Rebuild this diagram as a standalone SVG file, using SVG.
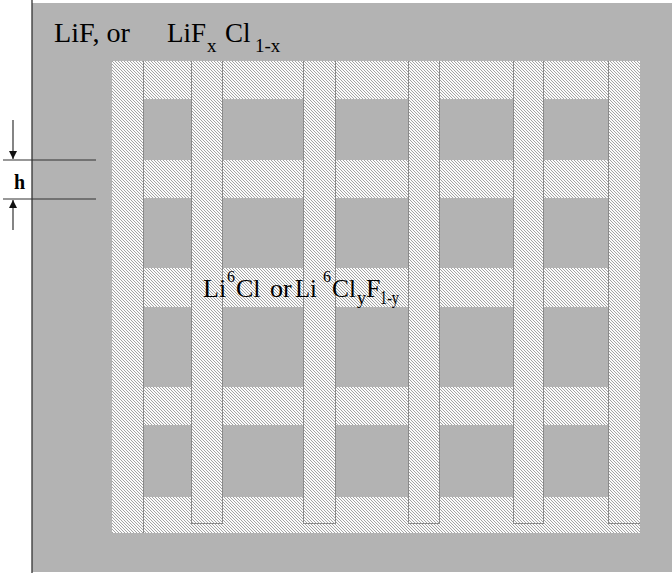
<svg xmlns="http://www.w3.org/2000/svg" width="672" height="573" viewBox="0 0 672 573">
  <style>
    .lbl { font-family: "Liberation Serif", "Times New Roman", serif; fill: #000; }
    .band { fill: url(#hatch); }
    .edge { fill: none; stroke: #8a8a8a; stroke-width: 1; }
    .dim { stroke: #333; stroke-width: 1.2; fill: none; }
  </style>
  <defs>
    <pattern id="hatch" x="0" y="0" width="3" height="3" patternUnits="userSpaceOnUse">
      <rect width="3" height="3" fill="#fbfbfb"/>
      <rect x="0" y="0" width="1" height="1" fill="#a3a3a3"/>
      <rect x="1" y="1" width="1" height="1" fill="#a3a3a3"/>
      <rect x="2" y="2" width="1" height="1" fill="#a3a3a3"/>
    </pattern>
    <marker id="ah" viewBox="0 0 10 10" refX="10" refY="5" markerWidth="8" markerHeight="10" markerUnits="userSpaceOnUse" orient="auto">
      <path d="M0,0 L10,5 L0,10 Z" fill="#111"/>
    </marker>
  </defs>

  <rect width="672" height="573" fill="#ffffff"/>
  <g id="background">
    <rect x="32" y="3" width="640" height="569" fill="#b3b3b3"/>
    <line x1="32" y1="0" x2="32" y2="573" stroke="#333" stroke-width="1.3"/>
  </g>

  <g id="bands" shape-rendering="crispEdges">
    <rect class="band" x="112" y="61" width="528" height="38"/>
    <rect class="band" x="112" y="160" width="528" height="38"/>
    <rect class="band" x="112" y="268" width="528" height="39"/>
    <rect class="band" x="112" y="387" width="528" height="38"/>
    <rect class="band" x="112" y="497" width="528" height="36"/>
  </g>

  <g id="bars" shape-rendering="crispEdges">
    <rect class="band" x="112" y="61" width="31" height="472"/>
    <line class="edge" x1="143.5" y1="61" x2="143.5" y2="533"/>
    <rect class="band" x="191" y="61" width="31" height="463"/>
    <path class="edge" d="M191.5,61 V523.5 H222.5 V61"/>
    <rect class="band" x="303" y="61" width="32" height="463"/>
    <path class="edge" d="M303.5,61 V523.5 H335.5 V61"/>
    <rect class="band" x="408" y="61" width="31" height="463"/>
    <path class="edge" d="M408.5,61 V523.5 H439.5 V61"/>
    <rect class="band" x="513" y="61" width="30" height="463"/>
    <path class="edge" d="M513.5,61 V523.5 H543.5 V61"/>
    <rect class="band" x="608" y="61" width="32" height="463"/>
    <path class="edge" d="M608.5,61 V523.5 H640"/>
  </g>

  <g id="dimension-h">
    <line class="dim" x1="3" y1="160" x2="96" y2="160"/>
    <line class="dim" x1="3" y1="199" x2="96" y2="199"/>
    <line class="dim" x1="13" y1="120" x2="13" y2="159" marker-end="url(#ah)"/>
    <line class="dim" x1="13" y1="230" x2="13" y2="200" marker-end="url(#ah)"/>
    <text class="lbl" x="14" y="189" font-size="20" font-weight="bold">h</text>
  </g>

  <g id="label-top">
    <text class="lbl" x="54" y="42" font-size="27" textLength="76" lengthAdjust="spacingAndGlyphs">LiF, or</text>
    <text class="lbl" font-size="27"><tspan x="167" y="42">LiF</tspan><tspan x="207" y="52" font-size="19">x</tspan><tspan x="225" y="42">Cl</tspan><tspan x="255" y="52" font-size="19">1-x</tspan></text>
  </g>

  <g id="label-center">
    <text class="lbl" font-size="26"><tspan x="203" y="297">Li</tspan><tspan x="227" y="282" font-size="16">6</tspan><tspan x="236" y="297">Cl</tspan><tspan x="270" y="297">or</tspan><tspan x="295" y="297" textLength="22" lengthAdjust="spacingAndGlyphs">Li</tspan><tspan x="323" y="282" font-size="16">6</tspan><tspan x="332" y="297" textLength="24" lengthAdjust="spacingAndGlyphs">Cl</tspan><tspan x="357" y="304" font-size="18">y</tspan><tspan x="366" y="297">F</tspan><tspan x="380" y="304" font-size="18" textLength="19" lengthAdjust="spacingAndGlyphs">1-y</tspan></text>
  </g>
</svg>
